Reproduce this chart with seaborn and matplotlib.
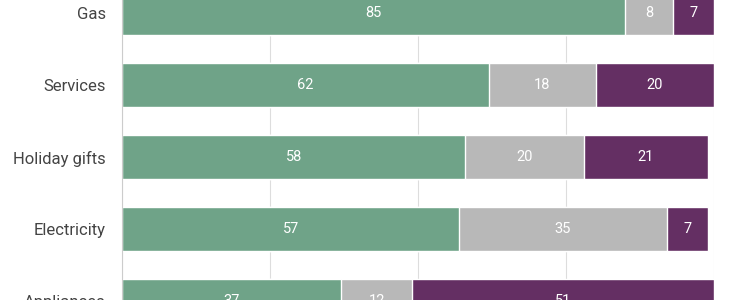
import numpy as np
import pandas as pd
import seaborn as sns
import matplotlib.pyplot as plt

categories = ["Gas", "Services", "Holiday gifts", "Electricity", "Appliances"]
first = [85, 62, 58, 57, 37]
second = [8, 18, 20, 35, 12]
third = [7, 20, 21, 7, 51]

GREEN = "#6fa388"
GRAY = "#b8b8b8"
PURPLE = "#642f63"


def main():
    sns.set_theme(style="white")
    plt.rcParams["font.family"] = ["Roboto", "DejaVu Sans"]

    df = pd.DataFrame({"category": categories, "a": first, "b": second, "c": third})
    df["ab"] = df["a"] + df["b"]
    df["abc"] = df["ab"] + df["c"]

    fig = plt.figure(figsize=(7.47, 3.0), dpi=100)
    # axes runs a pixel past the bottom so the last row label still shows
    ax = fig.add_axes([122 / 747, -1 / 300, (714 - 122) / 747, 301 / 300])

    # stacked look: draw cumulative totals back to front
    for col, color in [("abc", PURPLE), ("ab", GRAY), ("a", GREEN)]:
        sns.barplot(data=df, x=col, y="category", color=color, width=0.61,
                    saturation=1, ax=ax, zorder=2)

    for i, row in df.iterrows():
        for start, val in [(0, row["a"]), (row["a"], row["b"]), (row["ab"], row["c"])]:
            ax.text(start + val / 2, i, f"{val}", ha="center", va="center",
                    color="white", fontsize=10.5, zorder=3)

    ax.set_xlim(0, 100)
    ax.set_ylim(4.0, -0.181)
    ax.set_xticks([0, 25, 50, 75, 100])
    ax.xaxis.grid(True, color="#dddddd", linewidth=0.8, zorder=0)
    ax.set_axisbelow(True)
    ax.set_xlabel("")
    ax.set_ylabel("")
    ax.tick_params(axis="x", bottom=False, labelbottom=False)
    ax.tick_params(axis="y", left=False, length=0, labelsize=12,
                   labelcolor="#444444", pad=11.5)
    for side in ["top", "right", "bottom"]:
        ax.spines[side].set_visible(False)
    ax.spines["left"].set_color("#cccccc")
    ax.spines["left"].set_linewidth(0.8)

    fig.savefig("out.png", dpi=100)
    plt.close(fig)


if __name__ == "__main__":
    main()
